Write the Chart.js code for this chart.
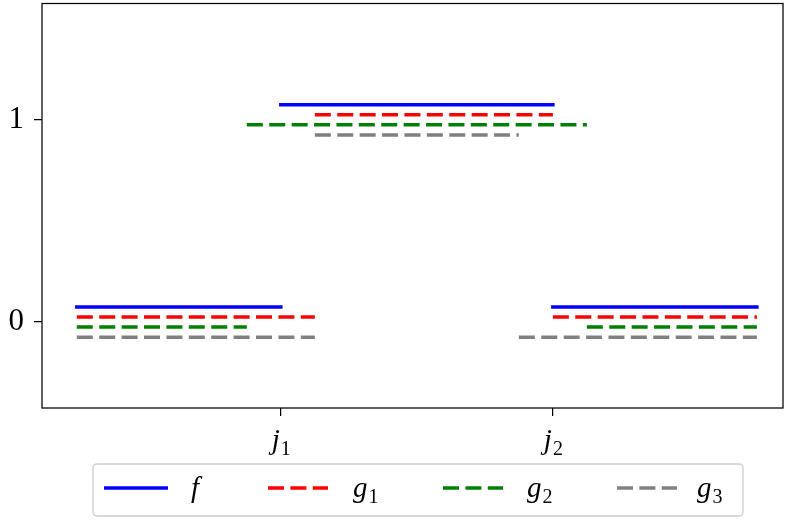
<!DOCTYPE html>
<html>
<head>
<meta charset="utf-8">
<script src="https://cdn.jsdelivr.net/npm/chart.js@4"></script>
<style>
  html, body { margin: 0; padding: 0; background: #fff; }
  #wrap { width: 785px; height: 520px; }
</style>
</head>
<body>
<div id="wrap"><canvas id="stepChart" width="785" height="520"></canvas></div>
<script>
// x range of the functions and the two jump points
var xFrom = 0.25;
var xTo = 2.75;
var xTickValues = [1, 2];
var xTickBase = ['j', 'j'];
var xTickSub = ['1', '2'];
var yTickValues = [0, 1];

// series: where each one jumps, and its level on each piece
var seriesBase = ['f', 'g', 'g', 'g'];
var seriesSub = ['', '1', '2', '3'];
var fSteps = [1, 2];
var fLevels = [0.075, 1.075, 0.075];
var g1Steps = [1.125, 2];
var g1Levels = [0.025, 1.025, 0.025];
var g2Steps = [0.875, 2.125];
var g2Levels = [-0.025, 0.975, -0.025];
var g3Steps = [1.125, 1.875];
var g3Levels = [-0.075, 0.925, -0.075];

var serif = '"Liberation Serif", "DejaVu Serif", serif';

// horizontal pieces only, broken by nulls so no vertical risers are drawn
function stepPoints(steps, levels) {
    var xs = [xFrom].concat(steps, [xTo]);
    var pts = [];
    for (var i = 0; i < levels.length; i++) {
        pts.push({x: xs[i], y: levels[i]});
        pts.push({x: xs[i + 1], y: levels[i]});
        if (i < levels.length - 1) pts.push({x: xs[i + 1], y: null});
    }
    return pts;
}

function drawMath(ctx, base, sub, x, y, align) {
    ctx.font = 'italic 29px ' + serif;
    var wb = ctx.measureText(base).width;
    ctx.font = '20px ' + serif;
    var ws = sub ? ctx.measureText(sub).width : 0;
    var x0 = align === 'center' ? x - (wb + ws) / 2 : x;
    ctx.fillStyle = '#000';
    ctx.textAlign = 'left';
    ctx.textBaseline = 'alphabetic';
    ctx.font = 'italic 29px ' + serif;
    ctx.fillText(base, x0, y);
    if (sub) {
        ctx.font = '20px ' + serif;
        ctx.fillText(sub, x0 + wb + 1, y + 6);
    }
}

var framePlugin = {
    id: 'frameAndLabels',
    afterDraw: function (chart) {
        var ctx = chart.ctx;
        var a = chart.chartArea;
        var xs = chart.scales.x;
        ctx.save();
        ctx.strokeStyle = '#000';
        ctx.lineWidth = 1.25;
        ctx.strokeRect(a.left, a.top, a.right - a.left, a.bottom - a.top);

        xTickValues.forEach(function (v, i) {
            drawMath(ctx, xTickBase[i], xTickSub[i], xs.getPixelForValue(v), a.bottom + 41, 'center');
        });

        // legend box
        var bx = 93, by = 464, bw = 650, bh = 52, r = 4;
        ctx.beginPath();
        ctx.roundRect(bx, by, bw, bh, r);
        ctx.fillStyle = 'rgba(255,255,255,0.8)';
        ctx.fill();
        ctx.strokeStyle = '#cccccc';
        ctx.lineWidth = 1.3;
        ctx.stroke();

        var sampleX = [104, 268, 443, 617];
        var textX = [191, 353, 527, 697];
        chart.data.datasets.forEach(function (ds, i) {
            ctx.beginPath();
            ctx.strokeStyle = ds.borderColor;
            ctx.lineWidth = ds.borderWidth;
            ctx.setLineDash(ds.borderDash || []);
            ctx.lineCap = 'butt';
            var len = ds.borderDash ? 60 : 64;
            ctx.moveTo(sampleX[i], 488);
            ctx.lineTo(sampleX[i] + len, 488);
            ctx.stroke();
            ctx.setLineDash([]);
            drawMath(ctx, seriesBase[i], seriesSub[i], textX[i], 497, 'left');
        });
        ctx.restore();
    }
};

var dash = [16, 6.4];
var ctx = document.getElementById('stepChart').getContext('2d');
var myChart = new Chart(ctx, {
    type: 'line',
    data: {
        datasets: [
            {label: 'f', data: stepPoints(fSteps, fLevels), borderColor: '#0000ff', borderWidth: 3.5, borderCapStyle: 'square'},
            {label: 'g1', data: stepPoints(g1Steps, g1Levels), borderColor: '#ff0000', borderWidth: 3.5, borderDash: dash},
            {label: 'g2', data: stepPoints(g2Steps, g2Levels), borderColor: '#008000', borderWidth: 3.5, borderDash: dash},
            {label: 'g3', data: stepPoints(g3Steps, g3Levels), borderColor: '#808080', borderWidth: 3.5, borderDash: dash}
        ]
    },
    options: {
        responsive: false,
        animation: false,
        spanGaps: false,
        layout: {padding: {top: 3.5, right: 2, left: 0, bottom: 0}},
        elements: {point: {radius: 0}, line: {tension: 0, fill: false}},
        plugins: {legend: {display: false}, tooltip: {enabled: false}},
        scales: {
            x: {
                type: 'linear',
                min: 0.122,
                max: 2.846,
                afterBuildTicks: function (scale) {
                    scale.ticks = xTickValues.map(function (v) { return {value: v}; });
                },
                afterFit: function (scale) {
                    scale.height = 112;
                    scale.paddingLeft = 0;
                    scale.paddingRight = 0;
                },
                ticks: {display: false},
                grid: {drawOnChartArea: false, drawTicks: true, tickLength: 8, color: '#000', lineWidth: 1.25},
                border: {display: false}
            },
            y: {
                min: -0.425,
                max: 1.575,
                afterBuildTicks: function (scale) {
                    scale.ticks = yTickValues.map(function (v) { return {value: v}; });
                },
                afterFit: function (scale) {
                    scale.width = 42;
                    scale.paddingTop = 0;
                    scale.paddingBottom = 0;
                },
                ticks: {
                    color: '#000',
                    padding: 10,
                    font: {family: serif, size: 31}
                },
                grid: {drawOnChartArea: false, drawTicks: true, tickLength: 8, color: '#000', lineWidth: 1.25},
                border: {display: false}
            }
        }
    },
    plugins: [framePlugin]
});
</script>
</body>
</html>
